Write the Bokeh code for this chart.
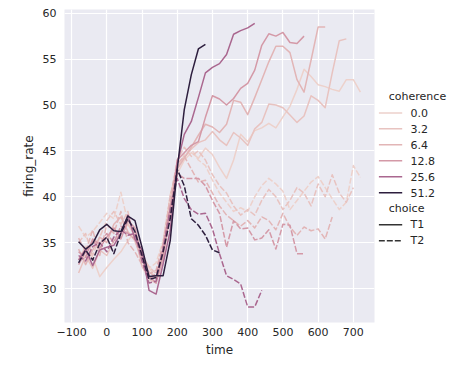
from bokeh.plotting import figure
from bokeh.models import Range1d, FixedTicker
from bokeh.layouts import row
from bokeh.embed import file_html
from bokeh.resources import INLINE
from bokeh.core.properties import value

# ---------------- data ----------------
TIME = [-80, -60, -40, -20, 0, 20, 40, 60, 80, 100, 120, 140, 160, 180, 200,
        220, 240, 260, 280, 300, 320, 340, 360, 380, 400, 420, 440, 460, 480,
        500, 520, 540, 560, 580, 600, 620, 640, 660, 680, 700, 720]

COHERENCE = ["0.0", "3.2", "6.4", "12.8", "25.6", "51.2"]
CHOICE = ["T1", "T2"]

T1_00 = [33.2, 34.6, 33.4, 31.3, 32.3, 33.2, 34.0, 35.2, 36.2, 33.8, 32.3, 31.0, 33.4, 38.2, 42.5,
         44.0, 44.8, 44.2, 45.3, 44.6, 43.2, 42.0, 44.0, 46.8, 46.0, 47.2, 47.5,
         48.0, 47.5, 48.7, 49.85, 51.7, 53.9, 53.1, 52.2, 52.0, 51.7, 51.5, 52.75, 52.75, 51.4]
T1_32 = [31.7, 33.6, 32.2, 34.2, 33.6, 35.2, 36.0, 37.0, 35.8, 32.4, 31.0, 30.6, 33.2, 38.5, 43.2,
         44.3, 45.2, 45.9, 46.2, 47.1, 46.2, 45.6, 47.0, 46.4, 45.6, 47.4, 48.1,
         50.1, 50.0, 49.7, 48.9, 48.1, 48.8, 51.0, 50.5, 49.7, 53.5, 57.0, 57.2]
T1_64 = [34.3, 32.6, 34.2, 35.6, 35.0, 37.0, 37.8, 36.2, 35.2, 33.0, 31.8, 31.2, 34.2, 39.0, 43.0,
         44.2, 45.4, 46.7, 47.9, 47.6, 47.0, 47.9, 50.5, 50.3, 48.95, 50.8, 52.75,
         54.7, 56.4, 56.4, 55.7, 52.75, 51.4, 54.9, 58.5, 58.5]
T1_128 = [32.6, 34.0, 35.2, 34.4, 35.6, 36.6, 35.4, 37.4, 36.6, 33.4, 31.4, 30.6, 33.6, 38.2, 44.0,
          44.8, 45.6, 46.0, 48.65, 51.0, 50.65, 50.0, 50.7, 51.8, 52.35, 53.8, 56.5,
          57.75, 57.5, 57.9, 56.8, 56.7, 57.5]
T1_256 = [33.1, 34.3, 32.5, 34.2, 34.5, 34.7, 36.0, 38.0, 35.4, 34.2, 29.8, 29.4, 32.7, 36.3, 43.6,
          46.8, 48.2, 50.8, 53.5, 54.1, 54.5, 55.5, 57.7, 58.1, 58.4, 58.9]
T1_512 = [35.1, 34.3, 34.9, 36.4, 37.0, 36.3, 36.2, 37.9, 37.4, 34.5, 31.3, 31.4, 31.4, 35.2, 43.0,
          49.5, 53.3, 56.1, 56.6]

T2_00 = [36.8, 35.6, 36.2, 37.2, 38.2, 37.6, 40.5, 37.2, 35.6, 33.6, 32.2, 32.8, 35.2, 40.2, 43.0,
         44.6, 45.2, 44.0, 43.4, 41.8, 40.4, 39.4, 38.4, 38.8, 38.4, 40.0, 41.2,
         42.0, 41.4, 40.6, 38.6, 39.6, 40.6, 41.6, 42.2, 41.0, 39.8, 38.6, 39.4, 43.4, 42.1]
T2_32 = [35.0, 36.0, 33.6, 35.6, 37.4, 38.4, 37.0, 38.4, 35.2, 33.4, 32.4, 31.6, 34.2, 39.6, 44.0,
         45.4, 44.4, 45.0, 44.0, 42.4, 41.2, 40.4, 39.0, 38.0, 38.6, 38.0, 39.6,
         40.8, 40.0, 38.6, 39.6, 41.0, 40.4, 39.0, 41.4, 40.0, 42.4, 40.4, 39.4, 41.0]
T2_64 = [35.5, 34.0, 36.4, 33.6, 37.0, 36.0, 38.4, 35.0, 34.0, 32.6, 31.6, 32.0, 35.0, 40.0, 43.6,
         44.4, 43.0, 41.6, 41.8, 40.4, 39.0, 38.0, 37.4, 36.8, 37.4, 36.6, 37.8,
         37.4, 36.4, 38.2, 36.7, 35.8, 36.7, 36.3, 36.5, 35.4, 37.8]
T2_128 = [34.0, 33.4, 35.4, 34.8, 36.0, 35.0, 36.8, 36.0, 35.4, 33.8, 31.0, 31.6, 34.6, 39.0, 42.5,
          42.0, 42.0, 42.0, 41.2, 39.6, 38.2, 34.5, 37.4, 36.5, 36.6, 35.3, 35.5,
          36.4, 34.3, 37.0, 36.9, 33.8, 33.8]
T2_256 = [33.6, 33.0, 34.6, 35.0, 34.0, 35.6, 36.4, 35.8, 36.0, 33.0, 30.6, 30.8, 34.4, 38.6, 42.0,
          39.8, 38.6, 38.1, 38.2, 36.5, 33.8, 31.4, 31.0, 30.5, 28.0, 28.0, 29.8]
T2_512 = [32.8, 34.2, 33.1, 34.9, 35.6, 33.8, 36.0, 37.6, 36.2, 33.6, 31.0, 31.2, 34.0, 37.6, 43.0,
          41.2, 37.6, 36.9, 35.8, 34.2, 33.9]

SERIES_T1 = [T1_00, T1_32, T1_64, T1_128, T1_256, T1_512]
SERIES_T2 = [T2_00, T2_32, T2_64, T2_128, T2_256, T2_512]

X_TICKS = [-100, 0, 100, 200, 300, 400, 500, 600, 700]
Y_TICKS = [30, 35, 40, 45, 50, 55, 60]

# ---------------- style ----------------
PALETTE = ["#edd1cb", "#e8c3c0", "#e2b5b6", "#d499a7", "#aa678f", "#2d1e3e"]
FONT = "DejaVu Sans"
TEXT = "#262626"
DASH = "6 2"
LW = 1.5
H = 360

p = figure(width=378, height=H,
           x_range=Range1d(-120, 760), y_range=Range1d(26.3, 60.4),
           output_backend="svg", toolbar_location=None,
           min_border_left=64, min_border_right=4, min_border_top=9, min_border_bottom=38,
           background_fill_color="#eaeaf2", border_fill_color="white",
           outline_line_color=None)

for i in range(len(COHERENCE)):
    for vals, dash in ((SERIES_T1[i], "solid"), (SERIES_T2[i], DASH)):
        p.line(TIME[:len(vals)], vals, line_color=PALETTE[i], line_width=LW,
               line_dash=dash, line_join="round")

p.xaxis.ticker = FixedTicker(ticks=X_TICKS)
p.yaxis.ticker = FixedTicker(ticks=Y_TICKS)
p.xgrid.ticker = FixedTicker(ticks=X_TICKS)
p.ygrid.ticker = FixedTicker(ticks=Y_TICKS)
p.grid.grid_line_color = "white"
p.grid.grid_line_width = 1.2
p.xaxis.major_label_overrides = {t: (f"\u2212{abs(t)}" if t < 0 else str(t)) for t in X_TICKS}

for ax in (p.xaxis[0], p.yaxis[0]):
    ax.axis_line_color = None
    ax.major_tick_line_color = None
    ax.minor_tick_line_color = None
    ax.major_tick_out = 0
    ax.major_tick_in = 0
    ax.major_label_text_font = FONT
    ax.major_label_text_font_size = "11px"
    ax.major_label_text_color = TEXT
    ax.axis_label_text_font = FONT
    ax.axis_label_text_font_size = "12px"
    ax.axis_label_text_font_style = "normal"
    ax.axis_label_text_color = TEXT

p.xaxis.axis_label = "time"
p.yaxis.axis_label = "firing_rate"
p.xaxis.major_label_standoff = 5
p.xaxis.axis_label_standoff = 4
p.yaxis.major_label_standoff = 8
p.yaxis.axis_label_standoff = 4

# ---------------- legend panel ----------------
leg = figure(width=74, height=H, x_range=Range1d(378, 452), y_range=Range1d(H, 0),
             output_backend="svg", toolbar_location=None,
             x_axis_type=None, y_axis_type=None, min_border=0,
             outline_line_color=None, background_fill_color="white",
             border_fill_color="white")
leg.grid.visible = False

ROW0, STEP = 100.5, 18.4
HX0, HX1, TX, SX = 378.3, 401.7, 410, 388.3

def title(label, k):
    leg.text(x=[SX], y=[ROW0 + k * STEP], text=[label], text_font=value(FONT),
             text_font_size="11px", text_color=TEXT, text_baseline="middle",
             text_align="left")

def entry(label, k, color, dash):
    y = ROW0 + k * STEP
    leg.line([HX0, HX1], [y, y], line_color=color, line_width=LW, line_dash=dash)
    leg.text(x=[TX], y=[y], text=[label], text_font=value(FONT),
             text_font_size="11px", text_color=TEXT, text_baseline="middle",
             text_align="left")

title("coherence", 0)
for i, c in enumerate(COHERENCE):
    entry(c, i + 1, PALETTE[i], "solid")
title("choice", len(COHERENCE) + 1)
entry(CHOICE[0], len(COHERENCE) + 2, "#333333", "solid")
entry(CHOICE[1], len(COHERENCE) + 3, "#333333", DASH)

layout = row(p, leg)
open("out.html", "w").write(file_html(layout, INLINE))
